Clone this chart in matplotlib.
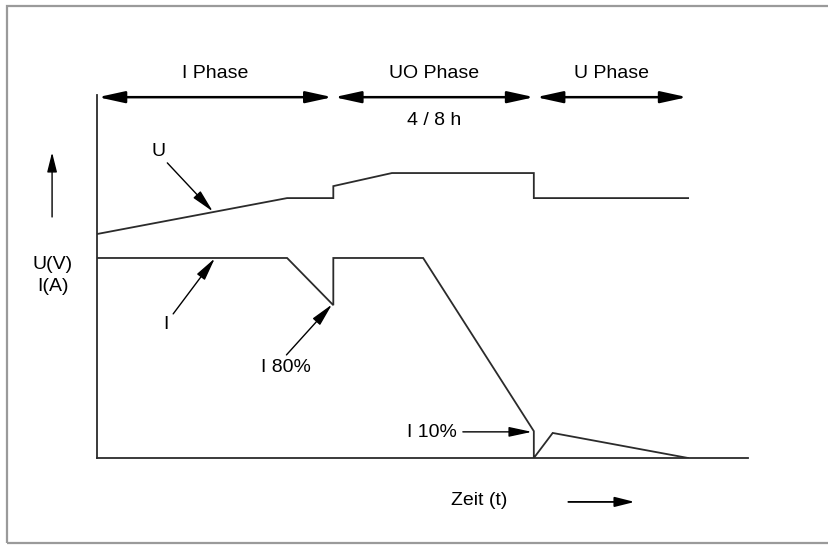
import matplotlib

matplotlib.use("Agg")
import matplotlib.pyplot as plt
from matplotlib.patches import Rectangle

plt.rcParams["font.family"] = ["Liberation Sans", "DejaVu Sans"]

# charging curve, time in % of axis length, value in % of axis height
u_time = [0, 29.2, 36.3, 36.3, 45.3, 67.1, 67.1, 90.8]
u_value = [61.7, 71.6, 71.6, 74.9, 78.5, 78.5, 71.6, 71.6]

i_time = [0, 29.2, 36.3, 36.3, 50.1, 67.1, 67.1, 70.0, 90.8]
i_value = [55.1, 55.1, 42.1, 55.1, 55.1, 7.4, 0.0, 6.9, 0.0]

phase_labels = ["I Phase", "UO Phase", "U Phase"]
phase_bounds = [0, 36.3, 67.3, 90.8]
phase_note = "4 / 8 h"

LINE = "#2b2b2b"
FS = 14

fig = plt.figure(figsize=(8.29, 5.45), dpi=100)
fig.patches.append(Rectangle((7 / 829, 2 / 545), 830 / 829, 537 / 545, transform=fig.transFigure,
                             fill=False, edgecolor="#9a9a9a", linewidth=1.6))
ax = fig.add_axes([97 / 829, 87 / 545, 651 / 829, 363 / 545])
ax.set_xlim(0, 100)
ax.set_ylim(0, 100)
for side in ("top", "right"):
    ax.spines[side].set_visible(False)
for side in ("left", "bottom"):
    ax.spines[side].set_color(LINE)
    ax.spines[side].set_linewidth(1.3)
ax.set_xticks([])
ax.set_yticks([])

ax.plot(u_time, u_value, color=LINE, lw=1.3, solid_joinstyle="miter")
ax.plot(i_time, i_value, color=LINE, lw=1.3, solid_joinstyle="miter")


def arrow(x0, y0, x1, y1, style="-|>,head_length=1.4,head_width=0.3", lw=1.0, ms=10):
    ax.annotate("", xy=(x1, y1), xytext=(x0, y0), annotation_clip=False,
                arrowprops=dict(arrowstyle=style, color="black", lw=lw, mutation_scale=ms,
                                shrinkA=0, shrinkB=0))


# phase arrows
for k, label in enumerate(phase_labels):
    a, b = phase_bounds[k], phase_bounds[k + 1]
    arrow(a + 0.15, 99.4, b - 0.15, 99.4, style="<|-|>,head_length=1.6,head_width=0.35", lw=1.8)
    ax.text((a + b) / 2, 105.8, label, ha="center", va="center", fontsize=FS, clip_on=False)
ax.text((phase_bounds[1] + phase_bounds[2]) / 2, 92.9, phase_note, ha="center", va="center", fontsize=FS)

# curve labels
ax.text(9.4, 84.3, "U", ha="center", va="center", fontsize=FS)
arrow(10.8, 81.3, 17.8, 67.9)
ax.text(10.6, 36.9, "I", ha="center", va="center", fontsize=FS)
arrow(11.7, 39.7, 18.1, 55.0)
ax.text(29.0, 24.8, "I 80%", ha="center", va="center", fontsize=FS)
arrow(29.1, 28.4, 36.1, 42.3)
ax.text(51.4, 7.0, "I 10%", ha="center", va="center", fontsize=FS)
arrow(56.2, 7.2, 66.8, 7.2)

# axis titles
ax.text(-6.8, 50.3, "U(V)\nI(A)", ha="center", va="center", fontsize=FS, linespacing=1.35,
        clip_on=False)
arrow(-6.9, 66.4, -6.9, 84.2, style="-|>,head_length=1.2,head_width=0.3")
ax.text(58.7, -11.8, "Zeit (t)", ha="center", va="center", fontsize=FS, clip_on=False)
arrow(72.4, -12.1, 82.6, -12.1, style="-|>,head_length=1.2,head_width=0.3", lw=1.3)

fig.savefig("out.png", dpi=100)
